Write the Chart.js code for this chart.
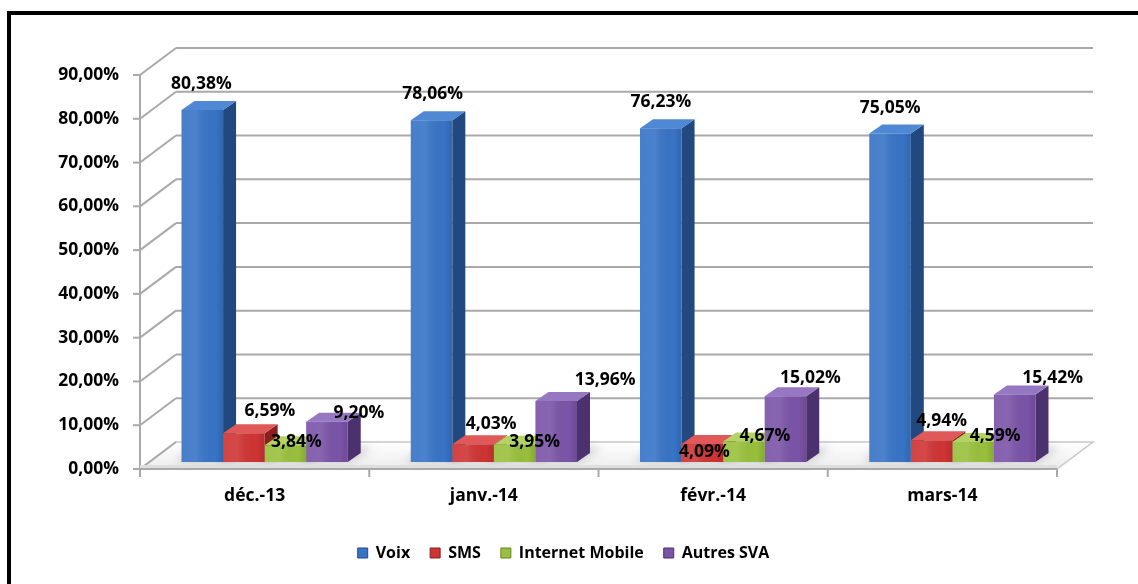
<!DOCTYPE html>
<html>
<head>
<meta charset="utf-8">
<script src="https://cdn.jsdelivr.net/npm/chart.js@4.4.1/dist/chart.umd.min.js"></script>
<style>
  html, body { margin: 0; padding: 0; background: #ffffff; overflow: hidden; }
  #wrap { position: relative; width: 1138px; height: 584px; }
  #frame { position: absolute; left: 7px; top: 11px; width: 1200px; height: 700px;
           border: 4px solid #000; box-sizing: border-box; pointer-events: none; }
  canvas { position: absolute; left: 0; top: 0; }
</style>
</head>
<body>
<div id="wrap">
  <canvas id="c" width="1138" height="584"></canvas>
  <div id="frame"></div>
</div>
<script>
// ---- data ----
const categories = ['déc.-13', 'janv.-14', 'févr.-14', 'mars-14'];
const voix      = [80.38, 78.06, 76.23, 75.05];
const sms       = [6.59, 4.03, 4.09, 4.94];
const internet  = [3.84, 3.95, 4.67, 4.59];
const autres    = [9.20, 13.96, 15.02, 15.42];
const seriesNames = ['Voix', 'SMS', 'Internet Mobile', 'Autres SVA'];
const yMin = 0, yMax = 90, yStep = 10;

// ---- styling ----
const FONT = '"Open Sans", Lato, sans-serif';
const faces = [
  { front: '#3874c6', side: '#22497f', top: '#4f88d4' },
  { front: '#cf3434', side: '#8a1f1f', top: '#e05858' },
  { front: '#98c03c', side: '#64832a', top: '#b3d365' },
  { front: '#7b54a8', side: '#4b316e', top: '#9677c2' }
];
// label nudges (dx from bar centre, dy from front top), per series / category
const labelNudge = [
  [[-1, -26], [1, -26], [0, -26], [0, -25]],
  [[26, -22], [18, -20], [2, 8], [10, -19]],
  [[11, -3], [20, -3], [21, -6], [22, -6]],
  [[32, -9], [49, -21], [25, -18], [38, -16]]
];
const FRONT_SHIFT = { x: -10, y: 7 };   // bar plane -> front plane
const BACK_SHIFT = { x: 26, y: -20 };   // bar plane -> back wall
const BAR_DEPTH = { x: 13, y: -9 };
const LEGEND_SHIFT = { x: 20, y: 1 };

const fmt = v => v.toFixed(2).replace('.', ',') + '%';

const box3d = {
  id: 'box3d',
  afterLayout(chart) {
    const lg = chart.legend;
    if (lg) {
      lg.left += LEGEND_SHIFT.x; lg.right += LEGEND_SHIFT.x;
      lg.top += LEGEND_SHIFT.y; lg.bottom += LEGEND_SHIFT.y;
    }
  },
  beforeDatasetsDraw(chart) {
    const ctx = chart.ctx;
    const ys = chart.scales.y;
    const L = chart.chartArea.left, R = chart.chartArea.right;
    const fL = L + FRONT_SHIFT.x, fR = R + FRONT_SHIFT.x;
    const bL = L + BACK_SHIFT.x, bR = R + BACK_SHIFT.x;
    const y0 = ys.getPixelForValue(yMin);
    ctx.save();
    // floor
    ctx.beginPath();
    ctx.moveTo(fL, y0 + FRONT_SHIFT.y);
    ctx.lineTo(fR, y0 + FRONT_SHIFT.y);
    ctx.lineTo(bR, y0 + BACK_SHIFT.y);
    ctx.lineTo(bL, y0 + BACK_SHIFT.y);
    ctx.closePath();
    const fg = ctx.createLinearGradient(0, y0 + BACK_SHIFT.y, 0, y0 + FRONT_SHIFT.y);
    fg.addColorStop(0, '#ffffff');
    fg.addColorStop(1, '#ececec');
    ctx.fillStyle = fg;
    ctx.fill();
    ctx.strokeStyle = '#c8c8c8';
    ctx.lineWidth = 1.5;
    ctx.stroke();
    // gridlines on back wall and left wall
    ctx.strokeStyle = '#a9a9a9';
    ctx.lineWidth = 2;
    for (let v = yMin; v <= yMax; v += yStep) {
      const y = ys.getPixelForValue(v);
      ctx.beginPath();
      if (v > yMin) {
        ctx.moveTo(bL, y + BACK_SHIFT.y);
        ctx.lineTo(bR, y + BACK_SHIFT.y);
      }
      ctx.moveTo(fL, y + FRONT_SHIFT.y);
      ctx.lineTo(bL, y + BACK_SHIFT.y);
      ctx.stroke();
      ctx.beginPath();
      ctx.moveTo(fL - 7, y + FRONT_SHIFT.y);
      ctx.lineTo(fL, y + FRONT_SHIFT.y);
      ctx.stroke();
    }
    // front vertical axis
    ctx.beginPath();
    ctx.moveTo(fL, ys.getPixelForValue(yMax) + FRONT_SHIFT.y);
    ctx.lineTo(fL, y0 + FRONT_SHIFT.y);
    ctx.stroke();
    // shadows of bars on the floor
    ctx.save();
    ctx.filter = 'blur(5px)';
    ctx.fillStyle = 'rgba(0,0,0,0.18)';
    chart.data.datasets.forEach((ds, di) => {
      chart.getDatasetMeta(di).data.forEach(el => {
        const p = el.getProps(['x', 'y', 'base', 'width'], true);
        const l = p.x - p.width / 2, r = p.x + p.width / 2;
        ctx.beginPath();
        ctx.moveTo(l - 6, p.base);
        ctx.lineTo(r + 2, p.base);
        ctx.lineTo(r + BAR_DEPTH.x + 12, p.base + BAR_DEPTH.y - 6);
        ctx.lineTo(l + BAR_DEPTH.x, p.base + BAR_DEPTH.y - 6);
        ctx.closePath();
        ctx.fill();
      });
    });
    ctx.restore();
    // bar side and top faces
    chart.data.datasets.forEach((ds, di) => {
      const f = faces[di];
      chart.getDatasetMeta(di).data.forEach(el => {
        const p = el.getProps(['x', 'y', 'base', 'width'], true);
        const l = p.x - p.width / 2, r = p.x + p.width / 2;
        const dx = BAR_DEPTH.x, dy = BAR_DEPTH.y;
        ctx.beginPath();
        ctx.moveTo(r, p.y);
        ctx.lineTo(r + dx, p.y + dy);
        ctx.lineTo(r + dx, p.base + dy);
        ctx.lineTo(r, p.base);
        ctx.closePath();
        ctx.fillStyle = f.side;
        ctx.fill();
        ctx.beginPath();
        ctx.moveTo(l, p.y);
        ctx.lineTo(r, p.y);
        ctx.lineTo(r + dx, p.y + dy);
        ctx.lineTo(l + dx, p.y + dy);
        ctx.closePath();
        ctx.fillStyle = f.top;
        ctx.fill();
      });
    });
    ctx.restore();
  },
  afterDatasetsDraw(chart) {
    const ctx = chart.ctx;
    const ys = chart.scales.y;
    const L = chart.chartArea.left, R = chart.chartArea.right;
    const fL = L + FRONT_SHIFT.x, fR = R + FRONT_SHIFT.x;
    const yf = ys.getPixelForValue(yMin) + FRONT_SHIFT.y;
    ctx.save();
    // front shading on bars
    chart.data.datasets.forEach((ds, di) => {
      chart.getDatasetMeta(di).data.forEach(el => {
        const p = el.getProps(['x', 'y', 'base', 'width'], true);
        const l = p.x - p.width / 2;
        const g = ctx.createLinearGradient(l, 0, l + p.width, 0);
        g.addColorStop(0, 'rgba(255,255,255,0.08)');
        g.addColorStop(0.35, 'rgba(255,255,255,0.10)');
        g.addColorStop(0.8, 'rgba(0,0,0,0.0)');
        g.addColorStop(1, 'rgba(0,0,0,0.12)');
        ctx.fillStyle = g;
        ctx.fillRect(l, p.y, p.width, p.base - p.y);
      });
    });
    // floor front edge, x axis line and ticks
    ctx.fillStyle = '#dedede';
    ctx.fillRect(fL, yf - 4, fR - fL, 4);
    ctx.strokeStyle = '#a9a9a9';
    ctx.lineWidth = 2;
    ctx.beginPath();
    ctx.moveTo(fL, yf);
    ctx.lineTo(fR, yf);
    const n = categories.length;
    for (let i = 0; i <= n; i++) {
      const x = fL + (fR - fL) * i / n;
      ctx.moveTo(x, yf);
      ctx.lineTo(x, yf + 8);
    }
    ctx.stroke();
    // value labels
    ctx.fillStyle = '#000';
    ctx.font = 'bold 17.5px ' + FONT;
    ctx.textAlign = 'center';
    ctx.textBaseline = 'middle';
    chart.data.datasets.forEach((ds, di) => {
      chart.getDatasetMeta(di).data.forEach((el, i) => {
        const p = el.getProps(['x', 'y'], true);
        const nd = labelNudge[di][i];
        ctx.fillText(fmt(ds.data[i]), p.x + nd[0], p.y + nd[1]);
      });
    });
    ctx.restore();
  }
};

const seriesData = [voix, sms, internet, autres];
new Chart(document.getElementById('c'), {
  type: 'bar',
  data: {
    labels: categories,
    datasets: seriesData.map((d, i) => ({
      label: seriesNames[i],
      data: d,
      backgroundColor: faces[i].front,
      borderWidth: 0,
      categoryPercentage: 0.725,
      barPercentage: 1.0
    }))
  },
  options: {
    responsive: false,
    animation: false,
    devicePixelRatio: 1,
    layout: { padding: { left: 20, right: 71, top: 68, bottom: 14 } },
    scales: {
      x: {
        type: 'category',
        offset: true,
        grid: { display: false, drawTicks: false },
        border: { display: false },
        afterFit: s => { s.height = 62; },
        ticks: { labelOffset: -10, padding: 24, color: '#000',
                 font: { family: FONT, weight: 'bold', size: 17.5 } }
      },
      y: {
        min: yMin, max: yMax,
        grid: { display: false, drawTicks: false },
        border: { display: false },
        afterFit: s => { s.width = 130; },
        ticks: { stepSize: yStep, labelOffset: 7, padding: 31, color: '#000',
                 font: { family: FONT, weight: 'bold', size: 17.5 },
                 callback: v => fmt(v) }
      }
    },
    plugins: {
      tooltip: { enabled: false },
      legend: {
        position: 'bottom',
        labels: {
          color: '#000',
          boxWidth: 10, boxHeight: 10, padding: 20,
          font: { family: FONT, weight: 'bold', size: 16 },
          generateLabels: chart => chart.data.datasets.map((ds, i) => ({
            text: ds.label, fillStyle: faces[i].front, strokeStyle: faces[i].side,
            lineWidth: 1, datasetIndex: i, hidden: false, fontColor: '#000'
          }))
        }
      }
    }
  },
  plugins: [box3d]
});
</script>
</body>
</html>
